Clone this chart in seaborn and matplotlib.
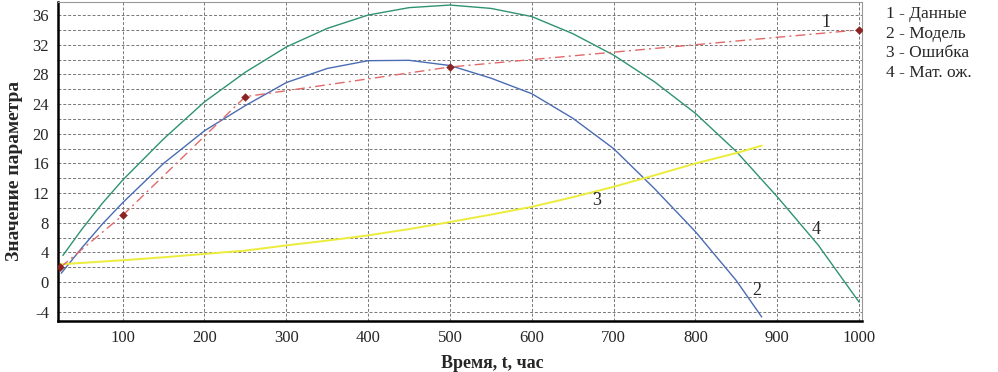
import numpy as np
import pandas as pd
import matplotlib
matplotlib.use('Agg')
import matplotlib.pyplot as plt
from matplotlib.ticker import MultipleLocator
import seaborn as sns

# ---- data ----
data_t = [24, 100, 250, 500, 1000]
data_y = [2, 9, 25, 29, 34]

model_t = [25, 50, 75, 100, 150, 200, 250, 300, 350, 400, 450, 500, 550, 600, 650, 700, 750, 800, 850, 881]
model_y = [1.2, 4.6, 7.8, 10.7, 16.0, 20.4, 23.8, 26.9, 28.8, 29.85, 29.9, 29.2, 27.5, 25.4, 22.1, 18.0, 12.6, 6.8, 0.2, -4.7]

err_t = [24, 100, 150, 200, 250, 300, 350, 400, 450, 500, 550, 600, 650, 700, 750, 800, 850, 881]
err_y = [2.4, 2.95, 3.35, 3.8, 4.25, 4.95, 5.6, 6.3, 7.15, 8.1, 9.1, 10.15, 11.45, 12.85, 14.4, 16.0, 17.4, 18.4]

mean_t = [27, 50, 75, 100, 150, 200, 250, 300, 350, 400, 450, 500, 550, 600, 650, 700, 750, 800, 850, 900, 950, 1000]
mean_y = [3.6, 7.1, 10.6, 13.75, 19.3, 24.3, 28.3, 31.7, 34.2, 36.0, 37.0, 37.35, 36.9, 35.8, 33.5, 30.6, 27.0, 22.75, 17.6, 11.5, 5.0, -2.7]

legend_lines = ['1 - Данные', '2 - Модель', '3 - Ошибка', '4 - Мат. ож.']

# ---- style ----
sns.set_style("white")
plt.rcParams['font.family'] = ['Liberation Serif', 'DejaVu Serif']
plt.rcParams['axes.unicode_minus'] = False

fig = plt.figure(figsize=(9.98, 3.72), dpi=100)
ax = fig.add_axes([0.0581, 0.1379, 0.8056, 0.8575])

sns.lineplot(x=mean_t, y=mean_y, ax=ax, color='#2f9273', linewidth=1.0)
sns.lineplot(x=model_t, y=model_y, ax=ax, color='#4a6cb3', linewidth=1.0)
sns.lineplot(x=err_t, y=err_y, ax=ax, color='#ecec3a', linewidth=1.4)
sns.lineplot(x=data_t, y=data_y, ax=ax, color='#e06a6a', linewidth=1.0)
ax.lines[-1].set_dashes([7, 3, 1.5, 3])
sns.scatterplot(x=data_t, y=data_y, ax=ax, color='#8b2323', marker='D', s=16,
                edgecolor='#8b2323', zorder=5)

# curve numbers
ax.text(960, 35.0, '1', fontsize=13, ha='center', va='center')
ax.text(875, -1.1, '2', fontsize=13, ha='center', va='center')
ax.text(679, 11.0, '3', fontsize=13, ha='center', va='center')
ax.text(948, 7.1, '4', fontsize=13, ha='center', va='center')

ax.set_xlim(21, 1003.5)
ax.set_ylim(-5.2, 37.8)
ax.xaxis.set_major_locator(MultipleLocator(100))
ax.xaxis.set_minor_locator(MultipleLocator(25))
ax.yaxis.set_major_locator(MultipleLocator(4))
ax.yaxis.set_minor_locator(MultipleLocator(2))

ax.grid(True, which='major', axis='x', color='#777777', linestyle=(0, (3, 2)), linewidth=0.7)
ax.grid(True, which='both', axis='y', color='#777777', linestyle=(0, (3, 2)), linewidth=0.7)

ax.tick_params(axis='both', which='major', labelsize=12, length=3, color='#444444', direction='out')
ax.tick_params(axis='x', which='minor', length=3, color='#666666', direction='out')
ax.tick_params(axis='y', which='minor', length=0)
ax.tick_params(axis='x', pad=4)

for side in ['left', 'bottom']:
    ax.spines[side].set_linewidth(1.8)
    ax.spines[side].set_color('black')
for side in ['top', 'right']:
    ax.spines[side].set_linewidth(0.8)
    ax.spines[side].set_color('#999999')

ax.set_ylabel('Значение параметра', fontsize=14, fontweight='bold')
ax.yaxis.set_label_coords(-0.0435, 0.47)
fig.text(492 / 998, 1 - 363 / 372, 'Время, t, час', fontsize=13, fontweight='bold',
         ha='center', va='center')

for i, txt in enumerate(legend_lines):
    fig.text(0.8878, 1 - (14 + 19.6 * i) / 372, txt, fontsize=12.5, ha='left', va='center')

fig.savefig('out.png', dpi=100)
